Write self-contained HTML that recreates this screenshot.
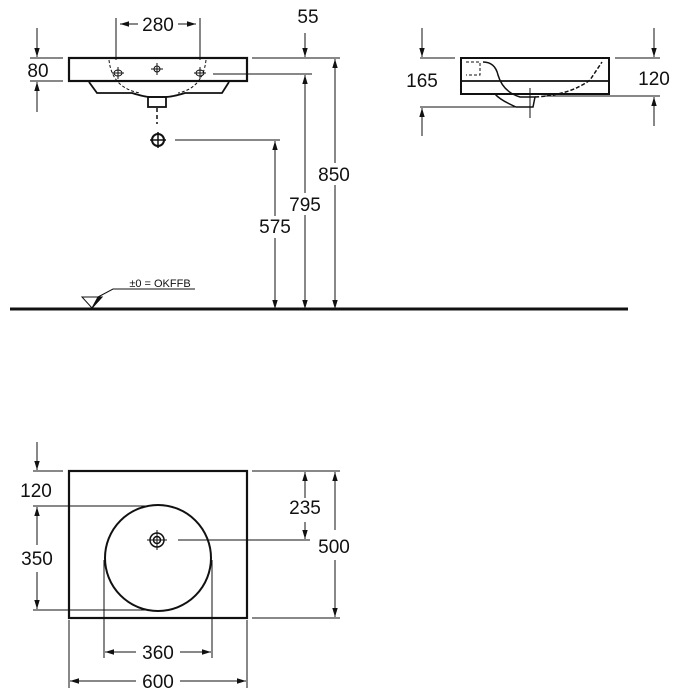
<!DOCTYPE html>
<html><head><meta charset="utf-8"><style>
html,body{margin:0;padding:0;background:#fff;}
svg{display:block;}
text{font-family:"Liberation Sans",Arial,sans-serif;font-size:19px;fill:#111;}
</style></head><body>
<svg width="679" height="700" viewBox="0 0 679 700" xmlns="http://www.w3.org/2000/svg">
<defs>
<marker id="a" viewBox="0 0 10 10" refX="10" refY="5" markerWidth="9" markerHeight="9" orient="auto-start-reverse" markerUnits="userSpaceOnUse"><path d="M0,2 L10,5 L0,8 Z" fill="#111"/></marker>
</defs>
<g stroke="#111" fill="none" stroke-width="1">
<rect x="69" y="58" width="178" height="23" stroke-width="2.2"/>
<path d="M89,82 L97,93 L132,93 Q145,97 150,97 L165,97 Q172,97 185,93 L222,93 L229,82" stroke-width="1.8"/>
<rect x="148" y="97" width="18" height="10" stroke-width="1.8"/>
<path d="M109,60 Q112,88 140,93 M206,60 Q203,88 178,93" stroke-dasharray="3,2"/>
<line x1="157" y1="108" x2="157" y2="124" stroke-dasharray="4,3" stroke-width="1.5"/>
<ellipse cx="118" cy="73" rx="4" ry="3"/><line x1="112" y1="73" x2="124" y2="73"/><line x1="118" y1="67" x2="118" y2="79"/>
<ellipse cx="200" cy="73" rx="4" ry="3"/><line x1="194" y1="73" x2="206" y2="73"/><line x1="200" y1="67" x2="200" y2="79"/>
<circle cx="157" cy="69" r="3"/><line x1="151" y1="69" x2="163" y2="69"/><line x1="157" y1="63" x2="157" y2="75"/>
<circle cx="158" cy="140" r="6" stroke-width="2"/><line x1="150" y1="140" x2="166" y2="140" stroke-width="1.5"/><line x1="158" y1="132" x2="158" y2="148" stroke-width="1.5"/>
<line x1="116" y1="18" x2="116" y2="60"/><line x1="200" y1="18" x2="200" y2="60"/>
<line x1="120" y1="24" x2="138" y2="24" marker-start="url(#a)"/><line x1="178" y1="24" x2="196" y2="24" marker-end="url(#a)"/>
<line x1="37" y1="28" x2="37" y2="57" marker-end="url(#a)"/><line x1="37" y1="112" x2="37" y2="82" marker-end="url(#a)"/>
<line x1="30" y1="58" x2="63" y2="58"/><line x1="30" y1="81" x2="63" y2="81"/>
<line x1="252" y1="58" x2="340" y2="58"/>
<line x1="213" y1="74" x2="312" y2="74"/>
<line x1="175" y1="140" x2="280" y2="140"/>
<line x1="305" y1="33" x2="305" y2="57" marker-end="url(#a)"/>
<line x1="275" y1="141" x2="275" y2="309" marker-end="url(#a)" marker-start="url(#a)"/>
<line x1="305" y1="75" x2="305" y2="309" marker-end="url(#a)" marker-start="url(#a)"/>
<line x1="335" y1="59" x2="335" y2="309" marker-end="url(#a)" marker-start="url(#a)"/>
<line x1="10" y1="309" x2="628" y2="309" stroke-width="3"/>
<path d="M82,297 L102,297 L92,308 Z"/><path d="M92,308 L102,297 L98,297 Z" fill="#111"/>
<path d="M98,297 L113,289 L195,289"/>
<rect x="461" y="58" width="148" height="36" stroke-width="2"/>
<line x1="461" y1="81" x2="609" y2="81" stroke-width="1.8"/>
<path d="M483,62 Q495,62 498,75 Q503,92 520,97 L535,97 L533,107 L516,107 Q500,100 495,94" stroke-width="1.5"/>
<path d="M535,97 Q570,95 590,80 L602,62" stroke-dasharray="4,2" stroke-width="1.5"/>
<path d="M466,62 L480,62 L480,75 L466,75" stroke-dasharray="3,2"/>
<line x1="530" y1="88" x2="530" y2="118"/>
<line x1="420" y1="58" x2="455" y2="58"/><line x1="615" y1="58" x2="660" y2="58"/>
<line x1="420" y1="107" x2="522" y2="107"/><line x1="545" y1="96" x2="660" y2="96"/>
<line x1="422" y1="28" x2="422" y2="57" marker-end="url(#a)"/><line x1="422" y1="136" x2="422" y2="108" marker-end="url(#a)"/>
<line x1="654" y1="28" x2="654" y2="57" marker-end="url(#a)"/><line x1="654" y1="126" x2="654" y2="97" marker-end="url(#a)"/>
<rect x="69" y="471" width="178" height="147" stroke-width="2.2"/>
<circle cx="158" cy="558" r="53" stroke-width="2"/>
<circle cx="157" cy="540" r="7" stroke-width="1.5"/><circle cx="157" cy="540" r="3.5" stroke-width="1.5"/>
<line x1="147" y1="540" x2="167" y2="540"/><line x1="157" y1="530" x2="157" y2="550"/>
<line x1="178" y1="540" x2="310" y2="540"/>
<line x1="252" y1="471" x2="340" y2="471"/><line x1="252" y1="618" x2="340" y2="618"/>
<line x1="305" y1="472" x2="305" y2="498" marker-start="url(#a)"/><line x1="305" y1="522" x2="305" y2="539" marker-end="url(#a)"/>
<line x1="335" y1="472" x2="335" y2="530" marker-start="url(#a)"/><line x1="335" y1="560" x2="335" y2="617" marker-end="url(#a)"/>
<line x1="33" y1="471" x2="63" y2="471"/>
<line x1="37" y1="442" x2="37" y2="470" marker-end="url(#a)"/>
<line x1="33" y1="506" x2="150" y2="506"/><line x1="33" y1="610" x2="150" y2="610"/>
<line x1="37" y1="507" x2="37" y2="545" marker-start="url(#a)"/><line x1="37" y1="572" x2="37" y2="609" marker-end="url(#a)"/>
<line x1="104" y1="560" x2="104" y2="658"/><line x1="212" y1="560" x2="212" y2="658"/>
<line x1="105" y1="652" x2="136" y2="652" marker-start="url(#a)"/><line x1="180" y1="652" x2="211" y2="652" marker-end="url(#a)"/>
<line x1="69" y1="620" x2="69" y2="688"/><line x1="247" y1="620" x2="247" y2="688"/>
<line x1="70" y1="681" x2="136" y2="681" marker-start="url(#a)"/><line x1="180" y1="681" x2="246" y2="681" marker-end="url(#a)"/>
</g>
<g>
<text x="158" y="31" text-anchor="middle">280</text>
<text x="308" y="23" text-anchor="middle">55</text>
<text x="38" y="77" text-anchor="middle">80</text>
<rect x="314" y="163" width="42" height="22" fill="#fff"/><text x="334" y="181" text-anchor="middle">850</text>
<rect x="284" y="193" width="42" height="22" fill="#fff"/><text x="305" y="211" text-anchor="middle">795</text>
<rect x="254" y="216" width="42" height="22" fill="#fff"/><text x="275" y="233" text-anchor="middle">575</text>
<text x="160" y="287" text-anchor="middle" style="font-size:11px">±0 = OKFFB</text>
<text x="422" y="87" text-anchor="middle">165</text>
<text x="654" y="85" text-anchor="middle">120</text>
<text x="36" y="497" text-anchor="middle">120</text>
<text x="37" y="565" text-anchor="middle">350</text>
<text x="305" y="514" text-anchor="middle">235</text>
<text x="334" y="553" text-anchor="middle">500</text>
<text x="158" y="659" text-anchor="middle">360</text>
<text x="158" y="688" text-anchor="middle">600</text>
</g>
</svg>
</body></html>
